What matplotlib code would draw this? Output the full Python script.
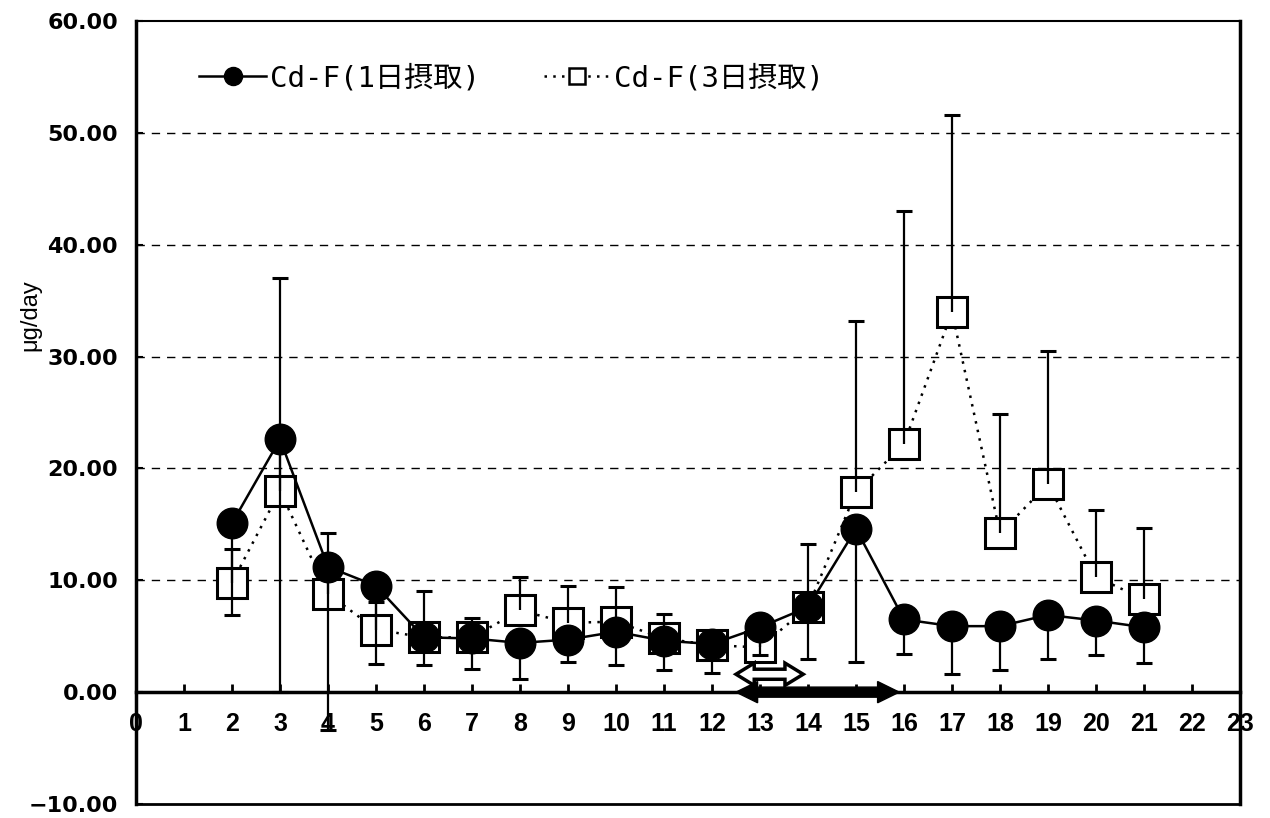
import matplotlib
matplotlib.use("Agg")
import matplotlib.pyplot as plt
from matplotlib.lines import Line2D
from matplotlib.patches import Polygon
from matplotlib.ticker import FuncFormatter
import numpy as np

# --- data ---
days = [2, 3, 4, 5, 6, 7, 8, 9, 10, 11, 12, 13, 14, 15, 16, 17, 18, 19, 20, 21]
one_day_mean = [15.1, 22.6, 11.2, 9.5, 4.9, 4.8, 4.4, 4.7, 5.4, 4.6, 4.3, 5.8,
                7.6, 14.6, 6.5, 5.9, 5.9, 6.9, 6.4, 5.8]
one_day_err = [8.2, 22.6, 14.6, 7.0, 2.5, 2.7, 3.2, 2.0, 3.0, 2.6, 2.6, 2.5,
               4.6, 11.9, 3.1, 4.3, 3.9, 3.9, 3.1, 3.2]
three_day_mean = [9.8, 18.0, 8.8, 5.6, 4.9, 4.9, 7.3, 6.2, 6.3, 4.8, 4.2, 4.0,
                  7.6, 17.9, 22.2, 34.0, 14.2, 18.6, 10.3, 8.3]
three_day_err = [3.0, 19.0, 5.4, 2.5, 4.1, 1.7, 3.0, 3.3, 3.1, 2.2, 0.5, 1.5,
                 5.6, 15.3, 20.8, 17.6, 10.7, 11.9, 6.0, 6.4]

legend_labels = ["Cd-F(1日摂取)", "Cd-F(3日摂取)"]
y_label = "μg/day"
x_ticks = list(range(0, 24))
y_ticks = [-10, 0, 10, 20, 30, 40, 50, 60]
grid_levels = [10, 20, 30, 40, 50]

# 期間を示す矢印 (開始日, 終了日)
short_period = (12.5, 13.9)
long_period = (12.5, 15.9)

plt.rcParams['font.family'] = ['Noto Sans CJK JP', 'DejaVu Sans']


def double_arrow(ax, x0, x1, yc, half_shaft, half_head, head_len, **kw):
    """両端矢印を多角形で描く"""
    xs = [x0, x0 + head_len, x0 + head_len, x1 - head_len, x1 - head_len,
          x1, x1 - head_len, x1 - head_len, x0 + head_len, x0 + head_len]
    ys = [yc, yc + half_head, yc + half_shaft, yc + half_shaft, yc + half_head,
          yc, yc - half_head, yc - half_shaft, yc - half_shaft, yc - half_head]
    ax.add_patch(Polygon(np.column_stack([xs, ys]), closed=True, **kw))


fig = plt.figure(figsize=(12.7, 8.18), dpi=100)
ax = fig.add_axes([136 / 1270, 14 / 818, 1104 / 1270, 783 / 818])

ax.set_xlim(0, 23)
ax.set_ylim(-10, 60)

for lv in grid_levels:
    ax.axhline(lv, color='black', lw=1.0, ls=(0, (6, 5)), zorder=1)

# 3日摂取: 白抜き四角 + 点線, 誤差は上側のみ
ax.plot(days, three_day_mean, color='black', lw=1.8, ls=(0, (1, 2.5)),
        marker='s', ms=21, mfc='white', mec='black', mew=2.2, zorder=3)
sq_top = np.add(three_day_mean, three_day_err)
ax.vlines(days, three_day_mean, sq_top, color='black', lw=1.6, zorder=3.5)
ax.plot(days, sq_top, ls='none', marker='_', ms=11, mew=2.2, color='black', zorder=3.5)

# 1日摂取: 黒丸 + 実線, 誤差は下側のみ
ci_bot = np.subtract(one_day_mean, one_day_err)
ax.vlines(days, ci_bot, one_day_mean, color='black', lw=1.6, zorder=4)
ax.plot(days, ci_bot, ls='none', marker='_', ms=11, mew=2.2, color='black', zorder=4)
ax.plot(days, one_day_mean, color='black', lw=1.8, marker='o', ms=22,
        mfc='black', mec='black', zorder=5)

# 期間の矢印
double_arrow(ax, long_period[0], long_period[1], 0, 0.45, 0.95, 0.45,
             facecolor='black', edgecolor='black', lw=1, zorder=6)
double_arrow(ax, short_period[0], short_period[1], 1.6, 0.45, 1.0, 0.38,
             facecolor='white', edgecolor='black', lw=2.5, zorder=7)

# 軸
ax.spines['bottom'].set_position(('data', 0))
ax.spines['bottom'].set_linewidth(2.5)
ax.spines['left'].set_linewidth(2.5)
ax.spines['right'].set_linewidth(2.5)
ax.spines['top'].set_linewidth(1.5)
ax.axhline(-10, color='black', lw=2.0, clip_on=False, zorder=8)

ax.set_xticks(x_ticks)
ax.set_yticks(y_ticks)
ax.tick_params(axis='x', direction='in', length=6, width=2, pad=14)
ax.tick_params(axis='y', direction='in', length=5, width=1.5, pad=13)
ax.yaxis.set_major_formatter(FuncFormatter(lambda v, p: f"{v:.2f}".replace('-', '\u2212')))
for lab in ax.get_xticklabels():
    lab.set_fontfamily('Liberation Sans')
    lab.set_fontweight('bold')
    lab.set_fontsize(18)
for lab in ax.get_yticklabels():
    lab.set_fontfamily('DejaVu Sans')
    lab.set_fontweight('bold')
    lab.set_fontsize(16)

fig.text(30 / 1270, 1 - 315 / 818, y_label, rotation=90, ha='center', va='center',
         fontsize=17, family=['Liberation Sans', 'DejaVu Sans'])

handles = [
    Line2D([], [], color='black', lw=1.8, marker='o', ms=13, mfc='black'),
    Line2D([], [], color='black', lw=1.8, ls=(0, (1, 2.5)), marker='s', ms=11.5,
           mfc='white', mec='black', mew=1.8),
]
ax.legend(handles, legend_labels, loc='center left', bbox_to_anchor=(0.044, 0.927),
          ncol=2, frameon=False, handlelength=2.3, handletextpad=0.12,
          columnspacing=2.2, borderpad=0,
          prop={'family': ['DejaVu Sans Mono', 'Noto Sans CJK JP'],
                'weight': 'normal', 'size': 21})

fig.savefig("out.png", dpi=100)
